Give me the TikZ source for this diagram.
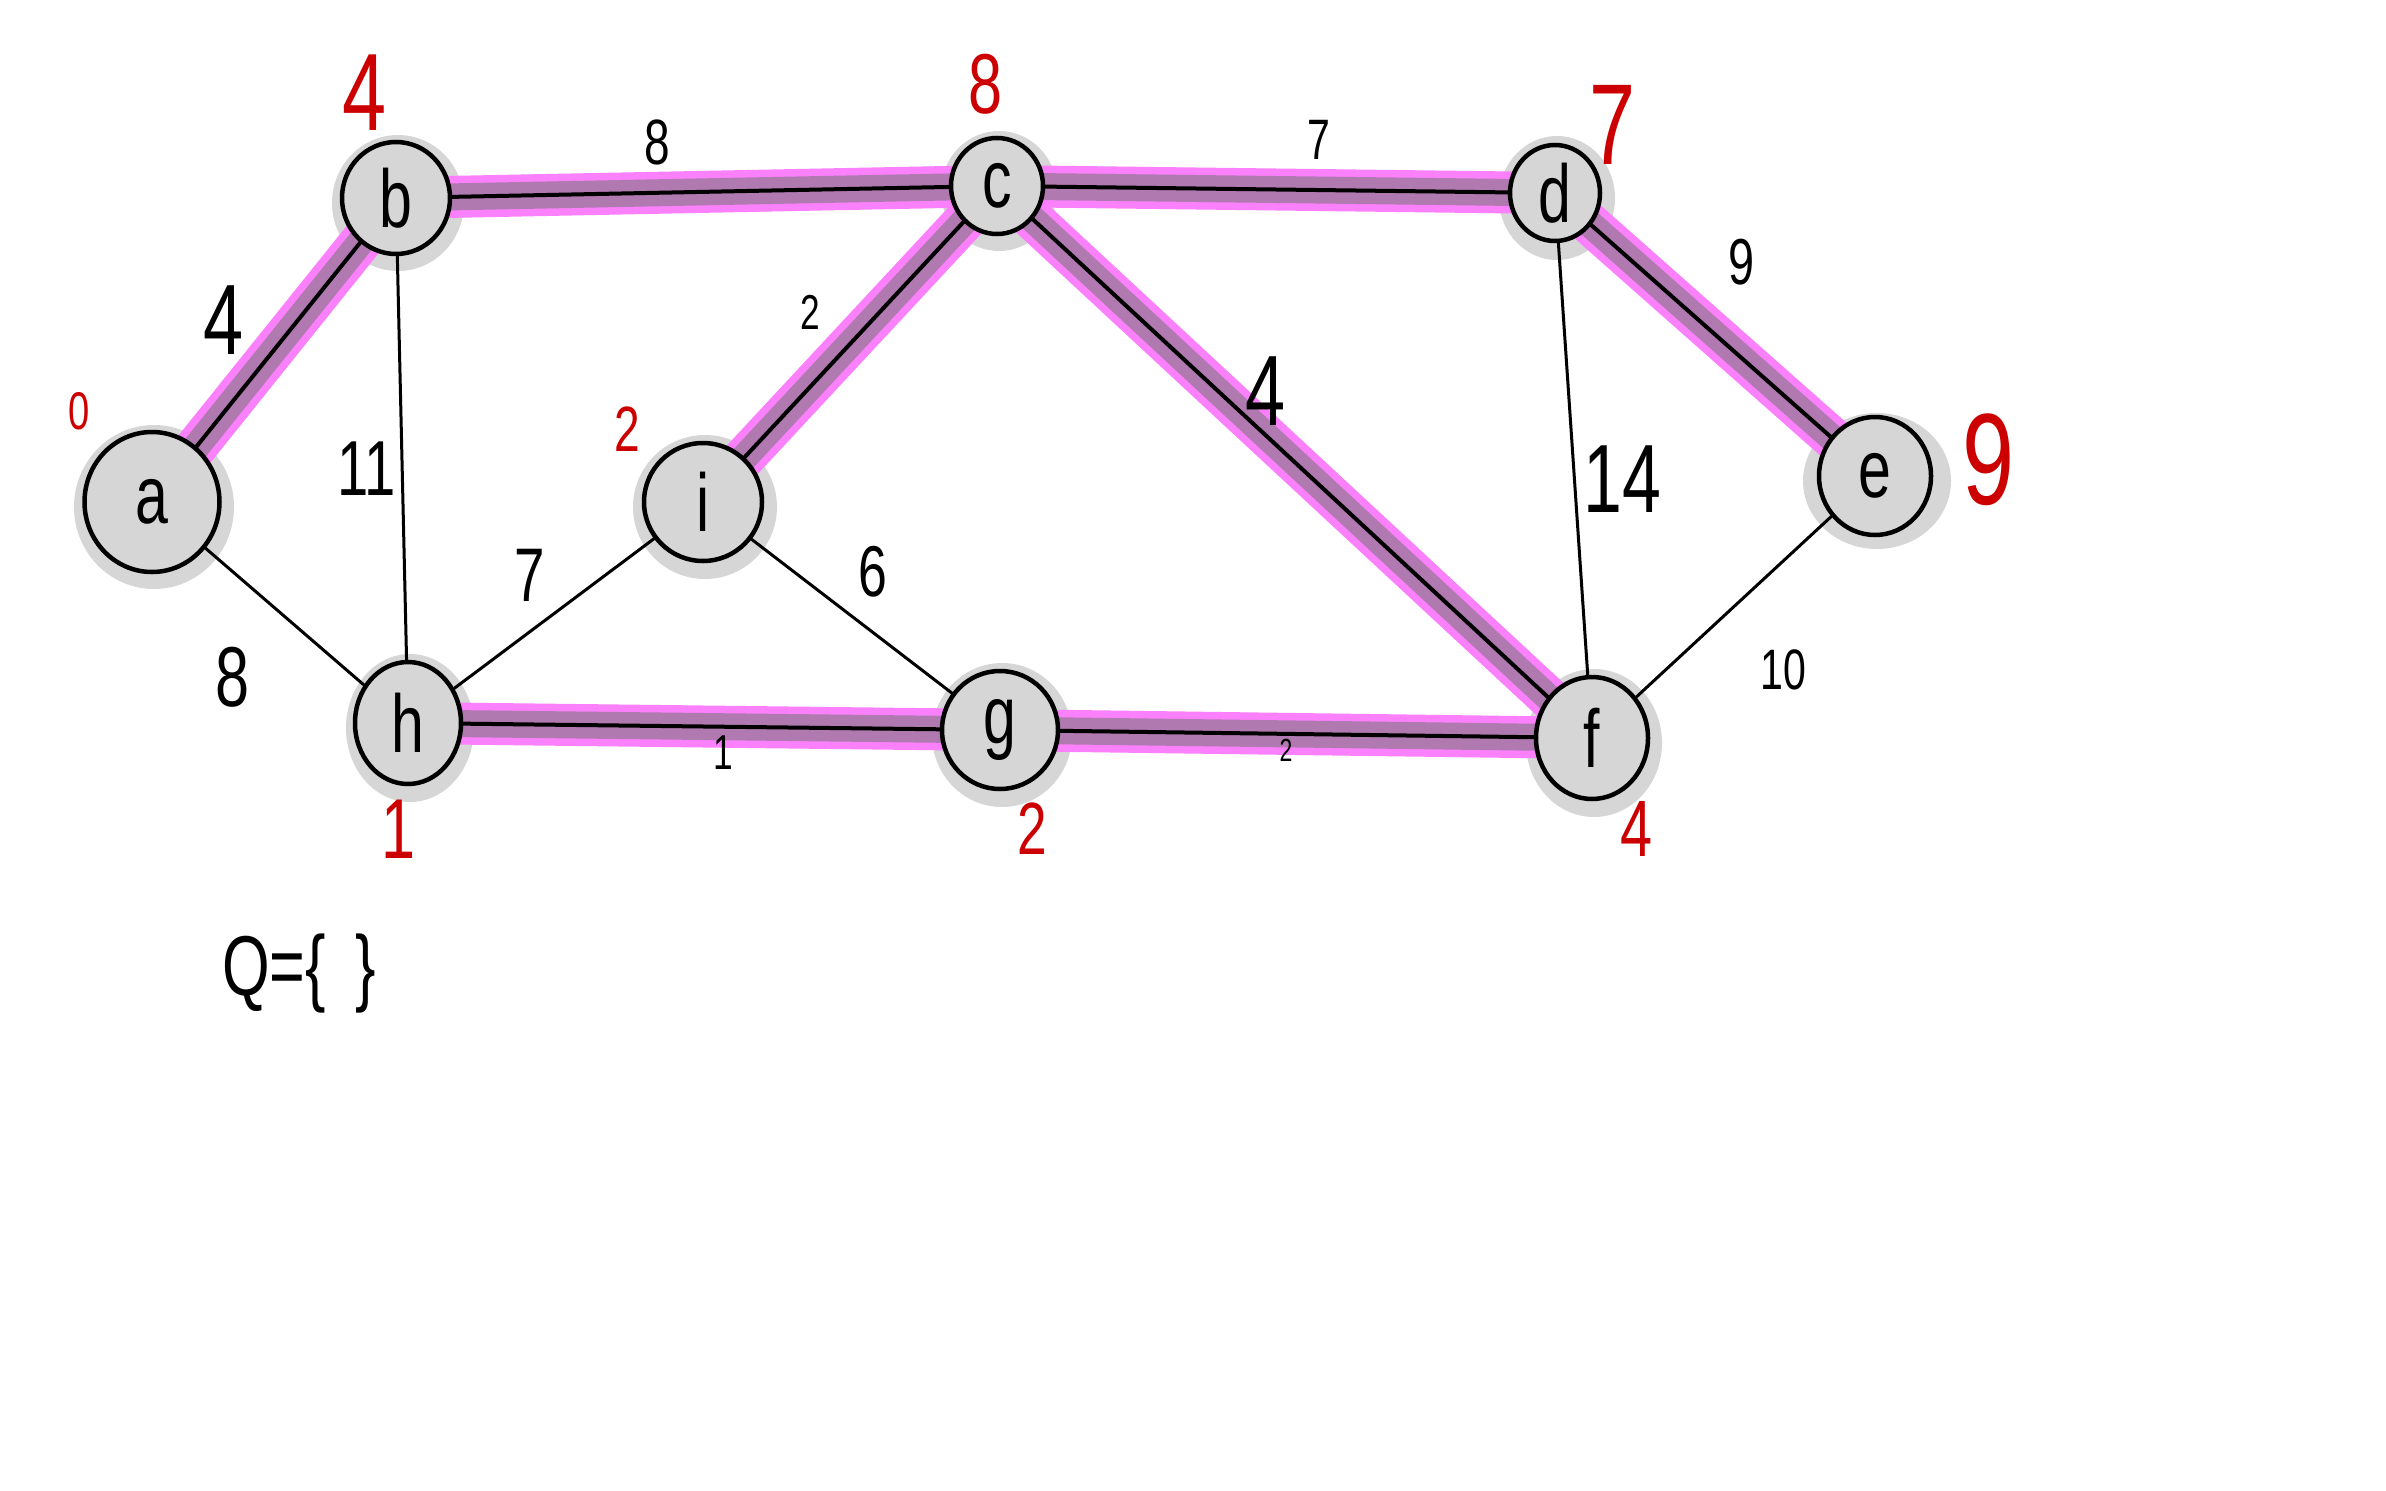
\documentclass[tikz,border=0pt]{standalone}
\usepackage{fontspec}
\setmainfont{Liberation Sans}
\newfontfamily\handfont[FakeStretch=0.72]{Liberation Sans}
\usetikzlibrary{shapes.geometric}
\pgfdeclarelayer{halo}
\pgfdeclarelayer{band}
\pgfsetlayers{halo,band,main}
\definecolor{nodegray}{HTML}{D6D6D6}
\definecolor{pinkband}{HTML}{FB80FB}
\definecolor{purpleband}{HTML}{B07AB0}
\definecolor{redlab}{HTML}{CC0000}
\newcommand\fsz[1]{\fontsize{#1}{#1}\selectfont}
\tikzset{
  vert/.style={ellipse, draw=black, line width=4.5pt, fill=nodegray, inner sep=0pt,
    font=\handfont\fsz{82}},
  plainedge/.style={draw=black, line width=3pt, line cap=round},
  mstedge/.style={draw=black, line width=4pt, line cap=round},
  bandouter/.style={draw=pinkband, line width=42pt, line cap=round},
  bandinner/.style={draw=purpleband, line width=27pt, line cap=round},
  redlabel/.style={text=redlab, inner sep=0pt, font=\handfont\fsz{#1}},
  weight/.style={text=black, inner sep=0pt, font=\handfont\fsz{#1}},
}
\begin{document}
\begin{tikzpicture}[x=1pt,y=-1pt]
\begin{pgfonlayer}{halo}
\fill[white] (0,0) rectangle (2386,1491);
\end{pgfonlayer}
\useasboundingbox (0,0) rectangle (2386,1491);

% vertices
\node[vert, minimum width=135pt, minimum height=140pt] (a) at (152,502) {a};
\node[vert, minimum width=108pt, minimum height=112pt] (b) at (396,198) {b};
\node[vert, minimum width=92pt,  minimum height=96pt]  (c) at (997,186) {c};
\node[vert, minimum width=90pt,  minimum height=96pt]  (d) at (1555,193) {d};
\node[vert, minimum width=112pt, minimum height=118pt] (e) at (1875,476) {e};
\node[vert, minimum width=112pt, minimum height=122pt] (f) at (1592,738) {f};
\node[vert, minimum width=116pt, minimum height=118pt] (g) at (1000,730) {g};
\node[vert, minimum width=106pt, minimum height=122pt] (h) at (408,723) {h};
\node[vert, minimum width=118pt, minimum height=118pt] (i) at (703,502) {i};

% halos
\begin{pgfonlayer}{halo}
\foreach \n/\rx/\ry in {a/80/82, b/66/68, c/58/60, d/58/62, e/74/68, f/68/74, g/70/72, h/64/74, i/72/72}{
  \fill[nodegray] ([shift={(2,5)}]\n.center) ellipse[x radius=\rx, y radius=\ry];
}
\end{pgfonlayer}

% highlighted (tree) edges bands
\begin{pgfonlayer}{band}
\foreach \u/\v in {a/b, b/c, c/d, c/i, c/f, d/e, h/g, g/f}{
  \draw[bandouter] (\u.center) -- (\v.center);
}
\foreach \u/\v in {a/b, b/c, c/d, c/i, c/f, d/e, h/g, g/f}{
  \draw[bandinner] (\u.center) -- (\v.center);
}
\end{pgfonlayer}

% tree edges
\draw[mstedge] (a) -- (b);
\draw[mstedge] (b) -- (c);
\draw[mstedge] (c) -- (d);
\draw[mstedge] (c) -- (i);
\draw[mstedge] (c) -- (f);
\draw[mstedge] (d) -- (e);
\draw[mstedge] (h) -- (g);
\draw[mstedge] (g) -- (f);

% other edges
\draw[plainedge] (a) -- (h);
\draw[plainedge] (b) -- (h);
\draw[plainedge] (h) -- (i);
\draw[plainedge] (i) -- (g);
\draw[plainedge] (d) -- (f);
\draw[plainedge] (e) -- (f);

% edge weights
\node[weight=100] (wab) at (224,320) {4};
\node[weight=78]  (wbh) at (367,469) {11};
\node[weight=85]  (wah) at (233,677) {8};
\node[weight=64]  (wbc) at (657,142) {8};
\node[weight=57]  (wcd) at (1319,140) {7};
\node[weight=49]  (wci) at (810,312) {2};
\node[weight=100] (wcf) at (1266,391) {4};
\node[weight=76]  (whi) at (530,575) {7};
\node[weight=72]  (wig) at (873,572) {6};
\node[weight=49]  (whg) at (723,753) {1};
\node[weight=32]  (wgf) at (1286,750) {2};
\node[weight=97]  (wdf) at (1622,479) {14};
\node[weight=65]  (wde) at (1741,262) {9};
\node[weight=57]  (wef) at (1783,670) {10};

% keys (red)
\node[redlabel=53]  (ka) at (79,411) {0};
\node[redlabel=110] (kb) at (365,93) {4};
\node[redlabel=85]  (kc) at (986,84) {8};
\node[redlabel=115] (kd) at (1613,125) {7};
\node[redlabel=64]  (ki) at (627,429) {2};
\node[redlabel=130] (ke) at (1989,460) {9};
\node[redlabel=85]  (kh) at (399,829) {1};
\node[redlabel=74]  (kg) at (1032,829) {2};
\node[redlabel=80]  (kf) at (1636,829) {4};

% queue
\node[weight=85, anchor=west] (q) at (222,974) {Q=\{\hspace{30pt}\}};
\end{tikzpicture}
\end{document}
